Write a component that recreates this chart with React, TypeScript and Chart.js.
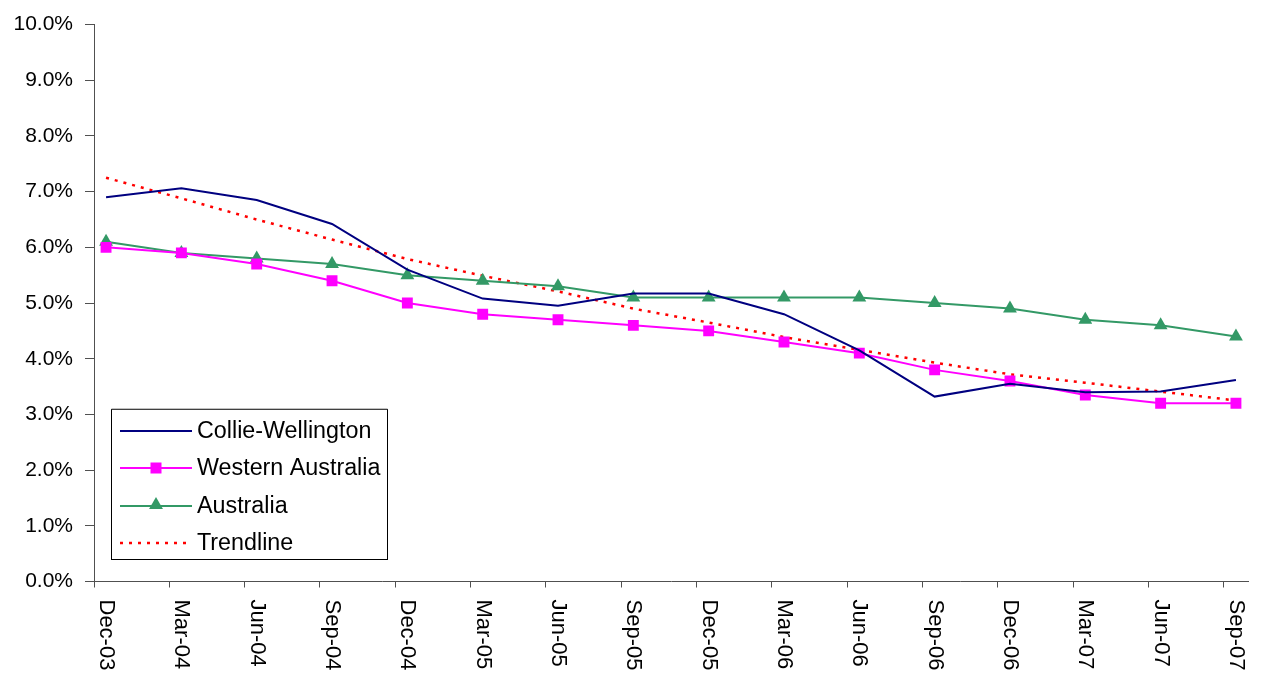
import React, { useEffect, useRef } from "react";
import { Chart, registerables } from "chart.js";

Chart.register(...registerables);

const categories = ["Dec-03", "Mar-04", "Jun-04", "Sep-04", "Dec-04", "Mar-05", "Jun-05", "Sep-05", "Dec-05", "Mar-06", "Jun-06", "Sep-06", "Dec-06", "Mar-07", "Jun-07", "Sep-07"];
const collieWellington = [6.9, 7.06, 6.85, 6.42, 5.6, 5.08, 4.95, 5.17, 5.17, 4.8, 4.15, 3.32, 3.55, 3.4, 3.41, 3.62];
const westernAustralia = [6.0, 5.9, 5.7, 5.4, 5.0, 4.8, 4.7, 4.6, 4.5, 4.3, 4.1, 3.8, 3.6, 3.35, 3.2, 3.2];
const australia = [6.1, 5.9, 5.8, 5.7, 5.5, 5.4, 5.3, 5.1, 5.1, 5.1, 5.1, 5.0, 4.9, 4.7, 4.6, 4.4];
const trendline = [7.25, 6.88, 6.5, 6.14, 5.79, 5.49, 5.21, 4.9, 4.65, 4.39, 4.16, 3.93, 3.72, 3.57, 3.41, 3.25];
const yTicks = [0, 1, 2, 3, 4, 5, 6, 7, 8, 9, 10];
const seriesNames = ["Collie-Wellington", "Western Australia", "Australia", "Trendline"];

const FONT = "'Liberation Sans', Arial, sans-serif";
const AXIS = "#505050";
const NAVY = "#000080";
const MAGENTA = "#FF00FF";
const GREEN = "#339966";
const RED = "#FF0000";
const X_SHIFT = 0.16;

const toPoints = (arr: number[]) => arr.map((v, i) => ({ x: i, y: v }));

function drawTriangle(ctx: CanvasRenderingContext2D, x: number, y: number, r: number) {
  ctx.beginPath();
  ctx.moveTo(x, y - r);
  ctx.lineTo(x + r * 0.866, y + r * 0.5);
  ctx.lineTo(x - r * 0.866, y + r * 0.5);
  ctx.closePath();
  ctx.fill();
}

const customPlugin = {
  id: "customDraw",
  afterDraw(chart: any) {
    const ctx = chart.ctx as CanvasRenderingContext2D;
    const xs = chart.scales.x;
    const bottom = chart.chartArea.bottom;
    ctx.save();
    ctx.fillStyle = "#000";
    ctx.font = `22px ${FONT}`;
    ctx.textAlign = "left";
    ctx.textBaseline = "middle";
    categories.forEach((c, i) => {
      const px = xs.getPixelForValue(i);
      ctx.save();
      ctx.translate(px, bottom + 18);
      ctx.rotate(Math.PI / 2);
      ctx.fillText(c, 0, 0);
      ctx.restore();
    });
    ctx.restore();

    const lx = 111.5, ly = 409.5, lw = 276, lh = 150;
    ctx.save();
    ctx.fillStyle = "#fff";
    ctx.fillRect(lx, ly, lw, lh);
    ctx.strokeStyle = "#000";
    ctx.lineWidth = 1;
    ctx.strokeRect(lx, ly, lw, lh);
    ctx.strokeStyle = "#808080";
    ctx.beginPath();
    ctx.moveTo(lx, ly - 0.5);
    ctx.lineTo(lx + lw, ly - 0.5);
    ctx.stroke();
    const rows = [431, 468, 506, 543];
    const colors = [NAVY, MAGENTA, GREEN, RED];
    rows.forEach((ry, i) => {
      ctx.save();
      ctx.strokeStyle = colors[i];
      ctx.lineWidth = i === 3 ? 2.5 : 2;
      if (i === 3) ctx.setLineDash([3, 6]);
      ctx.beginPath();
      ctx.moveTo(120, ry);
      ctx.lineTo(192, ry);
      ctx.stroke();
      ctx.restore();
      if (i === 1) {
        ctx.fillStyle = MAGENTA;
        ctx.fillRect(150.5, ry - 5.5, 11, 11);
      } else if (i === 2) {
        ctx.fillStyle = GREEN;
        drawTriangle(ctx, 156, ry - 1, 8);
      }
      ctx.fillStyle = "#000";
      ctx.font = `23.3px ${FONT}`;
      ctx.textAlign = "left";
      ctx.textBaseline = "middle";
      ctx.fillText(seriesNames[i], 197, ry + 1);
    });
    ctx.restore();
  },
};

export default function App() {
  const ref = useRef<HTMLCanvasElement>(null);
  useEffect(() => {
    if (!ref.current) return;
    const chart = new Chart(ref.current, {
      type: "line",
      data: {
        datasets: [
          {
            label: seriesNames[0],
            data: toPoints(collieWellington),
            borderColor: NAVY,
            backgroundColor: NAVY,
            borderWidth: 2,
            pointRadius: 0,
            tension: 0,
          },
          {
            label: seriesNames[1],
            data: toPoints(westernAustralia),
            borderColor: MAGENTA,
            backgroundColor: MAGENTA,
            borderWidth: 2,
            pointStyle: "rect",
            pointRadius: 7.7,
            pointBorderWidth: 0,
            tension: 0,
          },
          {
            label: seriesNames[2],
            data: toPoints(australia),
            borderColor: GREEN,
            backgroundColor: GREEN,
            borderWidth: 2,
            pointStyle: "triangle",
            pointRadius: 8,
            pointBorderWidth: 0,
            tension: 0,
          },
          {
            label: seriesNames[3],
            data: toPoints(trendline),
            borderColor: RED,
            backgroundColor: RED,
            borderWidth: 2.5,
            borderDash: [3, 6],
            pointRadius: 0,
            tension: 0,
          },
        ],
      },
      options: {
        animation: false,
        responsive: false,
        events: [],
        layout: { padding: { left: 0, right: 18, top: 20, bottom: 0 } },
        plugins: { legend: { display: false }, tooltip: { enabled: false } },
        scales: {
          x: {
            type: "linear",
            min: -X_SHIFT,
            max: categories.length - 1 + X_SHIFT,
            afterBuildTicks: (s: any) => {
              s.ticks = categories.map((_, i) => ({ value: i - X_SHIFT }));
            },
            afterFit: (s: any) => {
              s.height = 91.5;
            },
            ticks: { callback: () => "", font: { size: 1 } },
            grid: { drawOnChartArea: false, drawTicks: true, tickLength: 6, color: AXIS },
            border: { display: true, color: AXIS, width: 1 },
          },
          y: {
            type: "linear",
            min: 0,
            max: 10,
            afterBuildTicks: (s: any) => {
              s.ticks = yTicks.map((v) => ({ value: v }));
            },
            afterFit: (s: any) => {
              s.width = 94;
            },
            ticks: {
              callback: (v: any) => Number(v).toFixed(1) + "%",
              font: { size: 21, family: FONT },
              color: "#000",
              padding: 12,
            },
            grid: { drawOnChartArea: false, drawTicks: true, tickLength: 9, color: AXIS },
            border: { display: true, color: AXIS, width: 1 },
          },
        },
      },
      plugins: [customPlugin],
    });
    return () => chart.destroy();
  }, []);
  return (
    <div style={{ position: "fixed", left: 0, top: 0, width: 1266, height: 673, background: "#fff" }}>
      <canvas ref={ref} width={1266} height={673} style={{ display: "block" }} />
    </div>
  );
}
